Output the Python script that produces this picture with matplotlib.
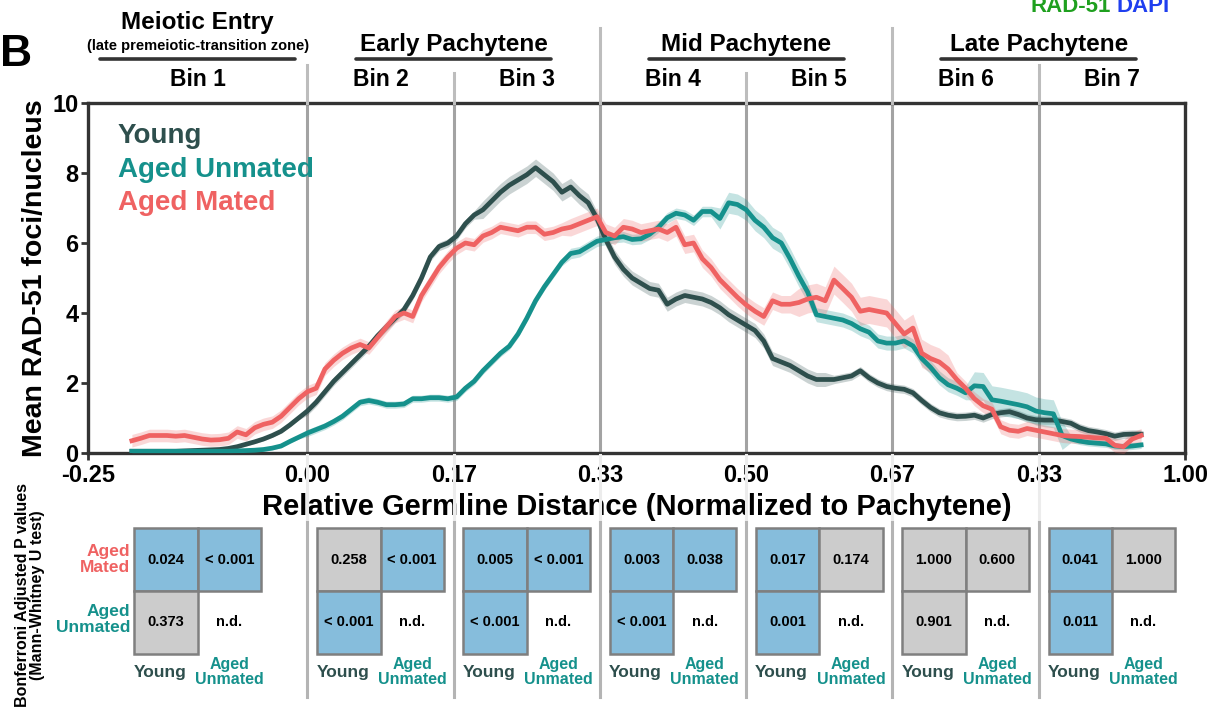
import numpy as np
import matplotlib
matplotlib.use("Agg")
import matplotlib.pyplot as plt
import matplotlib.transforms as mtrans
from matplotlib.patches import Rectangle
from matplotlib.lines import Line2D

plt.rcParams['font.family'] = ['Liberation Sans', 'DejaVu Sans']
plt.rcParams['font.weight'] = 'bold'
plt.rcParams['axes.labelweight'] = 'bold'

### Data ###

# germline position, step 0.01 from -0.20 to 0.95
dist = np.round(np.arange(-0.20, 0.951, 0.01), 2)

young = [0.05, 0.05, 0.05, 0.05, 0.05, 0.05, 0.06, 0.07, 0.08, 0.09,
         0.10, 0.13, 0.18, 0.25, 0.32, 0.40, 0.50, 0.62, 0.80, 1.00,
         1.20, 1.45, 1.75, 2.05, 2.30, 2.55, 2.80, 3.05, 3.35, 3.60,
         3.85, 4.10, 4.50, 5.00, 5.60, 5.90, 6.00, 6.20, 6.55, 6.80,
         6.95, 7.20, 7.45, 7.65, 7.80, 7.95, 8.15, 7.95, 7.75, 7.45,
         7.60, 7.35, 7.15, 6.70, 6.10, 5.60, 5.25, 5.00, 4.85, 4.70,
         4.65, 4.25, 4.40, 4.50, 4.45, 4.40, 4.30, 4.15, 3.95, 3.80,
         3.65, 3.50, 3.20, 2.70, 2.60, 2.50, 2.35, 2.20, 2.10, 2.10,
         2.10, 2.15, 2.20, 2.35, 2.15, 2.00, 1.90, 1.85, 1.82, 1.72,
         1.50, 1.30, 1.15, 1.08, 1.04, 1.05, 1.08, 1.00, 1.10, 1.15,
         1.18, 1.10, 1.00, 0.95, 0.94, 0.94, 0.90, 0.85, 0.72, 0.64,
         0.60, 0.55, 0.48, 0.53, 0.54, 0.54]

aged_unmated = [0.05, 0.05, 0.05, 0.05, 0.05, 0.05, 0.05, 0.05, 0.05, 0.05,
                0.05, 0.05, 0.06, 0.07, 0.08, 0.10, 0.14, 0.20, 0.33, 0.45,
                0.57, 0.67, 0.77, 0.90, 1.05, 1.25, 1.45, 1.50, 1.45, 1.38,
                1.38, 1.40, 1.55, 1.55, 1.58, 1.58, 1.55, 1.60, 1.85, 2.05,
                2.35, 2.60, 2.85, 3.05, 3.40, 3.85, 4.35, 4.75, 5.10, 5.45,
                5.70, 5.75, 5.90, 6.05, 6.10, 6.15, 6.18, 6.10, 6.12, 6.25,
                6.45, 6.72, 6.85, 6.80, 6.65, 6.90, 6.90, 6.70, 7.15, 7.10,
                6.95, 6.65, 6.45, 6.15, 6.00, 5.55, 5.05, 4.60, 3.95, 3.90,
                3.85, 3.80, 3.70, 3.55, 3.45, 3.20, 3.14, 3.14, 3.20, 3.06,
                2.70, 2.45, 2.15, 1.95, 1.85, 1.72, 1.92, 1.90, 1.52, 1.48,
                1.43, 1.38, 1.32, 1.20, 1.15, 1.12, 0.50, 0.40, 0.34, 0.30,
                0.28, 0.26, 0.20, 0.18, 0.20, 0.23]

aged_mated = [0.35, 0.42, 0.50, 0.50, 0.50, 0.48, 0.50, 0.45, 0.40, 0.37,
              0.38, 0.42, 0.60, 0.52, 0.72, 0.82, 0.88, 1.05, 1.30, 1.55,
              1.75, 1.85, 2.40, 2.65, 2.85, 3.00, 3.10, 3.00, 3.30, 3.60,
              3.90, 4.00, 3.90, 4.50, 4.90, 5.30, 5.60, 5.85, 6.00, 5.95,
              6.20, 6.30, 6.45, 6.40, 6.35, 6.45, 6.45, 6.25, 6.30, 6.40,
              6.45, 6.55, 6.65, 6.75, 6.30, 6.20, 6.45, 6.40, 6.30, 6.35,
              6.40, 6.30, 6.45, 5.95, 6.00, 5.55, 5.30, 4.95, 4.70, 4.45,
              4.23, 4.05, 3.90, 4.35, 4.25, 4.25, 4.30, 4.40, 4.45, 4.35,
              4.94, 4.70, 4.45, 4.05, 4.10, 4.05, 4.00, 3.70, 3.40, 3.57,
              2.85, 2.70, 2.60, 2.40, 2.10, 1.85, 1.55, 1.35, 1.25, 0.75,
              0.65, 0.62, 0.70, 0.65, 0.60, 0.55, 0.50, 0.48, 0.47, 0.45,
              0.43, 0.42, 0.22, 0.18, 0.40, 0.50]

# half widths of shaded bands
young_err = [0.05] * 20 + [0.12] * 20 + [0.25] * 13 + [0.20] * 27 + [0.12] * 36
aged_unmated_err = [0.05] * 20 + [0.10] * 30 + [0.15] * 17 + [0.30] * 11 + [0.20] * 18 + [0.40] * 11 + [0.10] * 9
aged_mated_err = [0.18] * 50 + [0.25] * 26 + [0.40] * 18 + [0.20] * 22

groups = ["Young", "Aged Unmated", "Aged Mated"]
colors = ["#2e4f4d", "#15918c", "#ef6262"]

xtick_pos = [-0.25, 0, 1/6, 2/6, 3/6, 4/6, 5/6, 1.0]
xtick_lab = ["-0.25", "0.00", "0.17", "0.33", "0.50", "0.67", "0.83", "1.00"]
bin_edges = [-0.25, 0, 1/6, 2/6, 3/6, 4/6, 5/6, 1.0]
bin_names = ["Bin %d" % i for i in range(1, 8)]
stages = ["Meiotic Entry", "Early Pachytene", "Mid Pachytene", "Late Pachytene"]
stage_centres = [-0.125, 1/6, 3/6, 5/6]

# p values per bin: [Aged Mated vs Young, Aged Mated vs Aged Unmated, Aged Unmated vs Young]
pvals = [["0.024", "< 0.001", "0.373"],
         ["0.258", "< 0.001", "< 0.001"],
         ["0.005", "< 0.001", "< 0.001"],
         ["0.003", "0.038", "< 0.001"],
         ["0.017", "0.174", "0.001"],
         ["1.000", "0.600", "0.901"],
         ["0.041", "1.000", "0.011"]]

### Figure ###
W, H = 1218, 717
fig = plt.figure(figsize=(W / 100, H / 100), dpi=100)
ax = fig.add_axes([88 / W, 1 - 453 / H, (1185 - 88) / W, (453 - 103) / H])

series = [young, aged_unmated, aged_mated]
errs = [young_err, aged_unmated_err, aged_mated_err]
for y, e, c in zip(series, errs, colors):
    y = np.array(y)
    e = np.array(e)
    ax.fill_between(dist, y - e, y + e, color=c, alpha=0.25, lw=0, zorder=3)
    ax.plot(dist, y, color=c, lw=3.4, zorder=4)

ax.set_xlim(-0.25, 1.0)
ax.set_ylim(0, 10)
ax.set_xticks(xtick_pos)
ax.set_xticklabels(xtick_lab)
ax.set_yticks([0, 2, 4, 6, 8, 10])
ax.tick_params(labelsize=17, width=2, length=5, color="#333333", pad=2)
ax.tick_params(axis="x", pad=3)
for s in ax.spines.values():
    s.set_linewidth(2.4)
    s.set_color("#333333")
ax.set_ylabel("Mean RAD-51 foci/nucleus", fontsize=20.5, labelpad=3)
ax.set_xlabel("Relative Germline Distance (Normalized to Pachytene)", fontsize=21, labelpad=4)

# legend as coloured text
for i, (g, c) in enumerate(zip(groups, colors)):
    ax.text(0.027, 0.905 - i * 0.096, g, transform=ax.transAxes, color=c,
            fontsize=20, ha="left", va="center")

# vertical bin separators, extended into the header and table area
tr = mtrans.blended_transform_factory(ax.transData, fig.transFigure)
tops = [65, 73, 28, 73, 28, 65]
for xb, top in zip(bin_edges[1:-1], tops):
    ax.axvline(xb, color="#a3a3a3", lw=2.2, zorder=2)
    fig.lines.append(Line2D([xb, xb], [1 - top / H, 1 - 103 / H], transform=tr,
                            color="#bdbdbd", lw=2.2))
    fig.lines.append(Line2D([xb, xb], [1 - 455 / H, 1 - 522 / H], transform=tr,
                            color="#ececec", lw=2.2, zorder=0))
    fig.lines.append(Line2D([xb, xb], [1 - 522 / H, 1 - 697 / H], transform=tr,
                            color="#b4b4b4", lw=2.2))

# header: bins and stages
for i, b in enumerate(bin_names):
    xc = (bin_edges[i] + bin_edges[i + 1]) / 2
    fig.text(xc, 1 - 80 / H, b, transform=tr, ha="center", va="center", fontsize=16.5)
for st, xc in zip(stages, stage_centres):
    yy = 22 if st == "Meiotic Entry" else 44
    fig.text(xc, 1 - yy / H, st, transform=tr, ha="center", va="center", fontsize=17.5)
    fig.lines.append(Line2D([xc - 0.111, xc + 0.111], [1 - 59 / H] * 2, transform=tr,
                            color="#333333", lw=2.6, solid_capstyle="round"))
fig.text(-0.125, 1 - 46 / H, "(late premeiotic-transition zone)", transform=tr,
         ha="center", va="center", fontsize=10.5)

fig.text(0.0, 1 - 55 / H, "B", ha="left", va="center", fontsize=32)
fig.text(1111 / W, 1 - 6 / H, "RAD-51", color="#1fa01f", ha="right", va="center", fontsize=16)
fig.text(1116 / W, 1 - 6 / H, "DAPI", color="#1f3fef", ha="left", va="center", fontsize=16)

# p value tables
ax2 = fig.add_axes([88 / W, 1 - 700 / H, (1185 - 88) / W, (700 - 528) / H], sharex=ax)
ax2.set_ylim(172 / 63, 0)
ax2.axis("off")
cw = 0.0722
cells = [(0, 0), (0, 1), (1, 0)]
for i, pv in enumerate(pvals):
    xc = (bin_edges[i] + bin_edges[i + 1]) / 2
    x0 = xc - cw
    for (r, c), txt in zip(cells, pv):
        num = 0.0005 if txt.startswith("<") else float(txt)
        fc = "#86bddc" if num < 0.05 else "#cccccc"
        ax2.add_patch(Rectangle((x0 + c * cw, r), cw, 1, facecolor=fc,
                                edgecolor="#7f7f7f", lw=1.8, clip_on=False))
        ax2.text(x0 + (c + 0.5) * cw, r + 0.5, txt, ha="center", va="center", fontsize=10.5)
    ax2.text(x0 + 1.5 * cw, 1.5, "n.d.", ha="center", va="center", fontsize=10.5)
    ax2.text(x0 + 0.5 * cw - 0.007, 2.29, "Young", ha="center", va="center",
             fontsize=12.5, color=colors[0])
    ax2.text(x0 + 1.5 * cw, 2.29, "Aged\nUnmated", ha="center", va="center",
             fontsize=11.5, color=colors[1], linespacing=1.0)

x0 = -0.125 - cw
ax2.text(x0 - 0.005, 0.5, "Aged\nMated", ha="right", va="center", fontsize=12.5,
         color=colors[2], linespacing=1.05)
ax2.text(x0 - 0.005, 1.45, "Aged\nUnmated", ha="right", va="center", fontsize=12.5,
         color=colors[1], linespacing=1.05)
fig.text(30 / W, 1 - 595 / H, "Bonferroni Adjusted P values\n(Mann-Whitney U test)",
         rotation=90, ha="center", va="center", fontsize=11.5, linespacing=1.05)

fig.savefig("out.png", dpi=100)
